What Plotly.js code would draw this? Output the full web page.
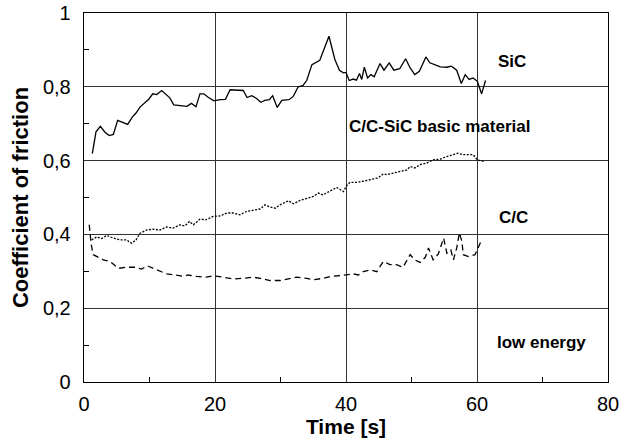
<!DOCTYPE html>
<html><head><meta charset="utf-8">
<script src="https://cdn.plot.ly/plotly-3.0.1.min.js"></script>
<style>html,body{margin:0;padding:0;background:#fff}#c{width:623px;height:444px}</style>
</head><body><div id="c"></div>
<script>
const sicT = [1.27,1.83,2.5,3.2,3.85,4.48,5.14,6,6.67,7.37,7.94,8.55,9.2,9.92,10.5,11.1,11.86,12.5,13.1,13.7,14.66,15.7,16.4,17.1,17.7,18.3,19,19.85,20.8,21.6,22.3,23.3,24.3,24.9,25.6,26.3,27,27.6,28.3,28.8,29.5,30.2,31.3,31.95,32.7,33.4,34,34.8,36,37.4,38.3,39,39.6,40,40.5,41.1,41.6,42.05,42.4,42.8,43.3,43.8,44.3,45.2,45.8,46.6,47.3,48.2,49.1,49.8,50.5,51.2,52.2,52.8,53.6,54.4,55.4,56.1,56.9,57.6,58.2,58.8,59.4,60.05,60.7,61.3];
const sicV = [0.619,0.678,0.693,0.677,0.668,0.671,0.709,0.702,0.698,0.718,0.729,0.745,0.756,0.767,0.781,0.779,0.790,0.781,0.770,0.751,0.749,0.747,0.755,0.746,0.781,0.781,0.771,0.762,0.765,0.766,0.792,0.790,0.790,0.771,0.776,0.769,0.758,0.763,0.765,0.776,0.744,0.763,0.765,0.774,0.800,0.803,0.817,0.860,0.872,0.937,0.874,0.845,0.838,0.839,0.817,0.821,0.818,0.836,0.820,0.853,0.824,0.833,0.827,0.863,0.845,0.865,0.845,0.849,0.876,0.851,0.833,0.842,0.881,0.865,0.860,0.854,0.853,0.856,0.845,0.809,0.833,0.820,0.824,0.815,0.781,0.817];

const ccsicT = [1.17,1.94,2.7,3.46,4.48,5.5,6.5,7.28,7.94,8.55,9.57,10.6,11.6,12.6,13.6,14.66,15.4,16.1,16.7,17.7,18.7,19.7,20.8,21.8,22.8,23.8,24.8,25.85,26.9,27.6,28.4,29.2,29.9,31.2,32.0,33.0,34.0,35.0,35.8,36.5,37.6,38.6,39.6,40.1,40.6,41.6,42.6,43.7,44.9,45.7,46.2,47.2,48.2,49.3,49.8,50.5,51.3,52.3,53.3,54.4,55.4,56.4,57.1,57.9,58.7,59.4,60.05,61.0];
const ccsicV = [0.385,0.393,0.389,0.397,0.390,0.385,0.385,0.376,0.385,0.403,0.412,0.414,0.412,0.420,0.417,0.426,0.423,0.435,0.426,0.441,0.440,0.449,0.450,0.458,0.458,0.453,0.462,0.465,0.469,0.480,0.474,0.471,0.480,0.491,0.483,0.492,0.498,0.503,0.512,0.507,0.518,0.527,0.516,0.532,0.541,0.541,0.544,0.548,0.553,0.564,0.562,0.566,0.571,0.575,0.584,0.580,0.589,0.593,0.602,0.604,0.611,0.616,0.620,0.616,0.616,0.616,0.602,0.598];

const ccT = [0.8,1.1,1.42,2.95,3.97,5.24,6.5,7.8,8.8,9.67,11.1,12.6,13.9,15.2,15.9,17.2,18.7,19.2,19.7,21.3,22.8,24.3,25.85,26.9,28.4,29.9,30.9,32.5,34.0,35.0,36.5,37.6,38.8,40.1,41.1,41.9,42.65,43.7,44.7,45.7,46.7,47.7,48.7,49.8,50.5,51.3,52.1,52.6,53.3,54.1,54.9,55.4,56.0,56.4,56.9,57.3,57.7,57.9,58.7,59.7,60.2,60.7];
const ccV = [0.426,0.372,0.345,0.331,0.327,0.308,0.311,0.311,0.306,0.315,0.304,0.293,0.290,0.286,0.290,0.286,0.284,0.286,0.288,0.284,0.279,0.281,0.284,0.281,0.275,0.275,0.279,0.284,0.281,0.277,0.281,0.286,0.288,0.290,0.293,0.290,0.299,0.304,0.299,0.327,0.318,0.318,0.311,0.345,0.331,0.324,0.338,0.363,0.331,0.347,0.390,0.349,0.358,0.331,0.363,0.404,0.381,0.345,0.340,0.345,0.367,0.385];

const labels = ["SiC","C/C-SiC basic material","C/C","low energy"];
const labelX = [65.3,54.2,65.6,69.9];
const labelY = [0.868,0.692,0.445,0.106];

const font = "Liberation Sans, Arial, sans-serif";
const traces = [
  {x:sicT,y:sicV,mode:"lines",line:{color:"#000",width:1.3},hoverinfo:"skip"},
  {x:ccsicT,y:ccsicV,mode:"lines",line:{color:"#000",width:1.3,dash:"2px,1.5px"},hoverinfo:"skip"},
  {x:ccT,y:ccV,mode:"lines",line:{color:"#000",width:1.3,dash:"6px,4px"},hoverinfo:"skip"}
];
const annotations = labels.map((t,i)=>({x:labelX[i],y:labelY[i],xref:"x",yref:"y",text:"<b>"+t+"</b>",showarrow:false,font:{family:font,size:17,color:"#000"}}));

const layout = {
  width:623,height:444,
  margin:{l:84,r:15,t:13,b:62,pad:0},
  paper_bgcolor:"#fff",plot_bgcolor:"#fff",
  showlegend:false,
  separators:",.",
  font:{family:font,color:"#000"},
  xaxis:{range:[0,80],dtick:20,tick0:0,showgrid:true,gridcolor:"#333",gridwidth:1,zeroline:false,
    showline:true,mirror:true,linecolor:"#000",linewidth:1.3,ticks:"",
    tickfont:{size:20,family:font},automargin:false,ticklabelstandoff:4,
    minor:{dtick:10,ticks:"inside",ticklen:5,tickcolor:"#000",showgrid:false},
    title:{text:"<b>Time [s]</b>",font:{size:21,family:font},standoff:2}},
  yaxis:{range:[0,1],dtick:0.2,tick0:0,showgrid:true,gridcolor:"#333",gridwidth:1,zeroline:false,
    showline:true,mirror:true,linecolor:"#000",linewidth:1.3,ticks:"",
    tickfont:{size:20,family:font},automargin:false,ticklabelstandoff:8,
    minor:{dtick:0.1,ticks:"inside",ticklen:5,tickcolor:"#000",showgrid:false},
    title:{text:"<b>Coefficient of friction</b>",font:{size:22,family:font},standoff:8}},
  annotations:annotations
};
Plotly.newPlot("c",traces,layout,{staticPlot:true,displayModeBar:false});
</script></body></html>
